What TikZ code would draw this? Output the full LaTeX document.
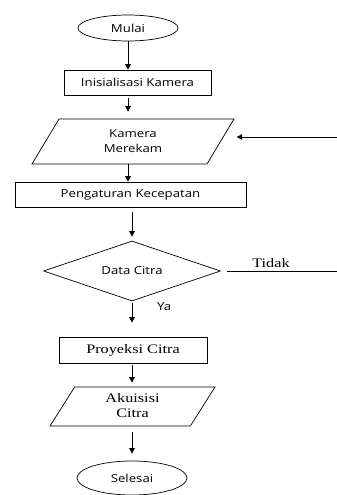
\documentclass[tikz,border=0pt]{standalone}
\usepackage{fontspec}
\usepackage{graphicx}
\setmainfont{Open Sans}
\newfontfamily\serifteks{Liberation Serif}
\usetikzlibrary{shapes.geometric,arrows.meta}

% teks agak melebar seperti pada gambar asli
\newcommand{\lebar}[2][1.2]{\scalebox{#1}[1]{#2}}

\tikzset{
    garis/.style={line width=0.7pt},
    panah/.style={garis,-{Triangle[length=5.5pt,width=5.5pt]}},
    terminal/.style={ellipse,draw,garis,inner sep=0pt,
        font=\fontsize{11}{15}\selectfont},
    proses/.style={rectangle,draw,garis,inner sep=0pt,minimum height=25pt,
        font=\fontsize{11}{15}\selectfont},
    masukan/.style={trapezium,trapezium stretches body,draw,garis,inner sep=0pt,
        font=\fontsize{11}{15}\selectfont},
    keputusan/.style={diamond,aspect=2.95,draw,garis,inner sep=0pt,
        font=\fontsize{11}{15}\selectfont},
    keterangan/.style={inner sep=0pt,font=\fontsize{11}{15}\selectfont},
}

\begin{document}
\begin{tikzpicture}[x=1pt,y=-1pt]
    \useasboundingbox (0,0) rectangle (337,495);

    % Simbol alur
    \node[terminal, minimum width=100pt, minimum height=26pt] (mulai) at (128,28) {\lebar{Mulai}};
    \node[proses, minimum width=147pt] (inisialisasi) at (137.5,82.5) {\lebar{Inisialisasi Kamera}};
    \node[masukan, trapezium left angle=48, trapezium right angle=132,
        minimum width=202pt, minimum height=45pt] (kamera) at (133,141.5)
        {\lebar{\begin{tabular}{@{}c@{}}Kamera\\Merekam\end{tabular}}};
    \node[proses, minimum width=231pt] (pengaturan) at (130.5,194.5) {\lebar{Pengaturan Kecepatan}};
    \node[keputusan, minimum width=177pt, minimum height=60pt] (data) at (132,271) {\lebar{Data Citra}};
    \node[proses, minimum width=148pt, minimum height=26pt, font=\serifteks\fontsize{13}{15}\selectfont]
        (proyeksi) at (133,350) {\lebar[1.25]{Proyeksi Citra}};
    \node[masukan, trapezium left angle=50.6, trapezium right angle=129.4,
        minimum width=165pt, minimum height=39pt, font=\serifteks\fontsize{13}{15}\selectfont]
        (akuisisi) at (132.5,406.5)
        {\lebar[1.25]{\begin{tabular}{@{}c@{}}Akuisisi\\Citra\end{tabular}}};
    \node[terminal, minimum width=110pt, minimum height=34pt] (selesai) at (132,478) {\lebar{Selesai}};

    % Panah alur
    \draw[panah] (mulai.south) -- (mulai.south |- inisialisasi.north);
    \draw[panah, shorten <=3pt, shorten >=7pt] (mulai.south |- inisialisasi.south) -- (mulai.south |- kamera.north);
    \draw[panah] (mulai.south |- kamera.south) -- (mulai.south |- pengaturan.north);
    \draw[panah, shorten <=5pt, shorten >=4pt] (data.north |- pengaturan.south) -- (data.north);
    \draw[panah, shorten <=2pt, shorten >=14pt] (data.south) -- (data.south |- proyeksi.north);
    \draw[panah, shorten <=2pt, shorten >=4pt] (data.south |- proyeksi.south) -- (data.south |- akuisisi.north);
    \draw[panah, shorten <=6pt, shorten >=7pt] (data.south |- akuisisi.south) -- (data.south |- selesai.north);

    % Cabang Tidak dan panah kembali
    \coordinate (tepi) at (337,271);
    \draw[garis, shorten <=6pt] (data.east) -- (data.east -| tepi);
    \node[keterangan, anchor=base, font=\serifteks\fontsize{13}{15}\selectfont] (tidak) at (271,267) {\lebar[1.25]{Tidak}};
    \coordinate (balik) at (337,137);
    \draw[panah, shorten >=2pt] (balik) -- (balik -| kamera.top right corner);

    % Label Ya
    \node[keterangan, anchor=west] (ya) at (157,307) {\lebar{Ya}};
\end{tikzpicture}
\end{document}
